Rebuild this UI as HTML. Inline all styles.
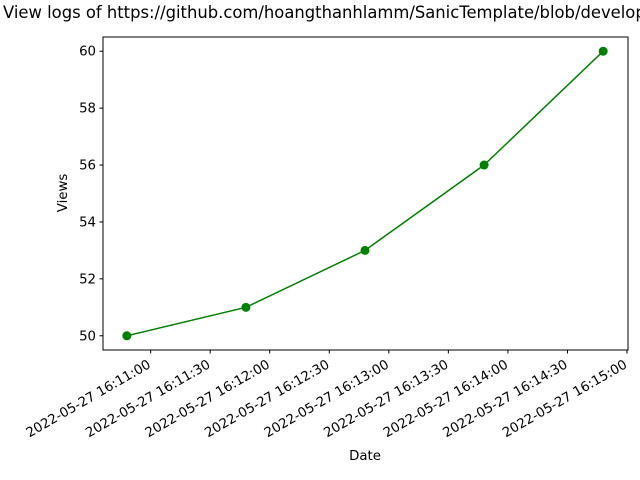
<!DOCTYPE html>
<html><head><meta charset="utf-8"><style>
body{margin:0;background:#fff}
svg{display:block;font-family:"DejaVu Sans","Liberation Sans",sans-serif}
</style></head><body>
<svg id="chart" width="640" height="480">
<text x="3" y="18" font-size="16.4">View logs of https://github.com/hoangthanhlamm/SanicTemplate/blob/develop/README.md</text>
<rect x="103" y="37" width="525" height="313" fill="none" stroke="#000" stroke-width="1"/>
<g id="yticks"></g><g id="xticks"></g><g id="series"></g>
<text x="365" y="460" font-size="13.3" text-anchor="middle">Date</text>
<text transform="translate(67,193) rotate(-90)" font-size="13.3" text-anchor="middle">Views</text>
</svg>
<script>
const times = ["16:10:48","16:11:48","16:12:48","16:13:48","16:14:48"];
const views = [50, 51, 53, 56, 60];
const yTicks = [50, 52, 54, 56, 58, 60];
const xTickLabels = ["16:11:00","16:11:30","16:12:00","16:12:30","16:13:00","16:13:30","16:14:00","16:14:30","16:15:00"];
const NS="http://www.w3.org/2000/svg";
function sec(t){const p=t.split(":").map(Number);return p[0]*3600+p[1]*60+p[2];}
const x0=sec("16:10:36"), x1=sec("16:15:00")+0.5;
function X(t){return 103+(sec(t)-x0)/(x1-x0)*525;}
function Y(v){return 350-(v-49.5)/11*313;}
function mk(tag,attrs,parent){const e=document.createElementNS(NS,tag);for(const k in attrs)e.setAttribute(k,attrs[k]);parent.appendChild(e);return e;}
const yg=document.getElementById("yticks");
yTicks.forEach(v=>{
  const l=mk("line",{x1:99.5,x2:103,y1:Y(v),y2:Y(v),stroke:"#000"},yg);
  
  
  const t=mk("text",{x:96,y:Y(v)+4.5,"font-size":13.3,"text-anchor":"end"},yg);
  t.textContent=v;
  
  
});
const xg=document.getElementById("xticks");
xTickLabels.forEach(s=>{
  const x=X(s);
  const l=mk("line",{x1:x,x2:x,y1:350,y2:353.5,stroke:"#000"},xg);
  
  
  const t=mk("text",{transform:`translate(${x+1},${367}) rotate(-30)`,"font-size":13.3,"text-anchor":"end"},xg);
  t.textContent="2022-05-27 "+s;
  
  
});
const sg=document.getElementById("series");
const pl=mk("polyline",{points:times.map((t,i)=>X(t)+","+Y(views[i])).join(" "),fill:"none",stroke:"#008000","stroke-width":1.5},sg);


times.forEach((t,i)=>{
  const c=mk("circle",{cx:X(t),cy:Y(views[i]),r:4.5,fill:"#008000"},sg);
  
  
});
</script>
</body></html>
